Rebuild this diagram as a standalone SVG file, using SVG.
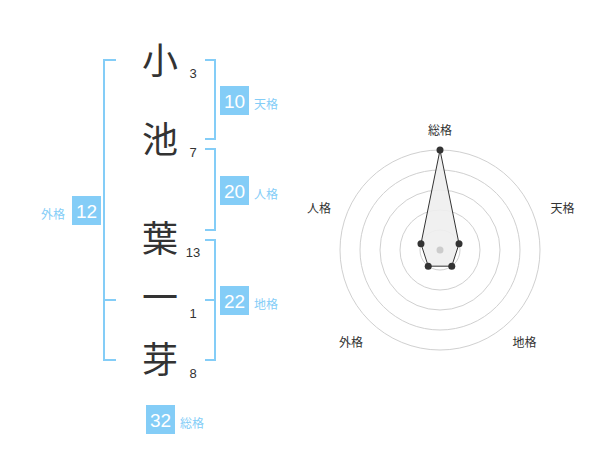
<svg xmlns="http://www.w3.org/2000/svg" width="600" height="470" viewBox="0 0 600 470">
<style>
.ch{font-family:"Noto Sans CJK JP","Noto Sans CJK SC",sans-serif;font-size:36px;fill:#333;text-anchor:middle}
.num{font-family:"Liberation Sans",Arial,sans-serif;font-size:13px;fill:#333;text-anchor:middle}
.br{fill:none;stroke:#84cdf7;stroke-width:2}
.box{fill:#84cdf7}
.bn{font-family:"Liberation Sans",Arial,sans-serif;font-size:19px;fill:#fff;text-anchor:middle}
.lb{font-family:"Noto Sans CJK JP","Noto Sans CJK SC",sans-serif;font-size:12px;fill:#84cdf7}
.rl{font-family:"Noto Sans CJK JP","Noto Sans CJK SC",sans-serif;font-size:12px;fill:#333;text-anchor:middle}
.ring{fill:none;stroke:#d0d0d0;stroke-width:1}
.pt{fill:#333}
</style>
<rect width="600" height="470" fill="#fff"/>
<g id="connectors">
<path class="br" d="M116,60 H104 V360 H116 M104,300 H116"/>
<path class="br" d="M205,60 H215 V139 H205"/>
<path class="br" d="M205,149 H215 V230 H205"/>
<path class="br" d="M205,240 H215 V360 H205 M205,300 H215"/>
</g>
<g id="name">
<text class="ch" x="160" y="74">小</text>
<text class="ch" x="160" y="153">池</text>
<text class="ch" x="160" y="252">葉</text>
<text class="ch" x="160" y="311">一</text>
<text class="ch" x="160" y="373">芽</text>
<text class="num" x="193" y="78">3</text>
<text class="num" x="193" y="157">7</text>
<text class="num" x="193" y="257">13</text>
<text class="num" x="193" y="318">1</text>
<text class="num" x="193" y="378">8</text>
</g>
<g id="tenkaku">
<rect class="box" x="220" y="86" width="29" height="29"/>
<text class="bn" x="234.5" y="107.5">10</text>
<text class="lb" x="254" y="109">天格</text>
</g>
<g id="jinkaku">
<rect class="box" x="220" y="176" width="29" height="29"/>
<text class="bn" x="234.5" y="197.5">20</text>
<text class="lb" x="254" y="199">人格</text>
</g>
<g id="chikaku">
<rect class="box" x="220" y="286" width="29" height="29"/>
<text class="bn" x="234.5" y="307.5">22</text>
<text class="lb" x="254" y="309">地格</text>
</g>
<g id="gaikaku">
<rect class="box" x="72" y="196" width="29" height="29"/>
<text class="bn" x="86.5" y="217.5">12</text>
<text class="lb" x="41" y="219">外格</text>
</g>
<g id="soukaku">
<rect class="box" x="146" y="405" width="29" height="29"/>
<text class="bn" x="160.5" y="426.5">32</text>
<text class="lb" x="180" y="428">総格</text>
</g>
<g id="radar">
<circle class="ring" cx="440" cy="250" r="20"/>
<circle class="ring" cx="440" cy="250" r="40"/>
<circle class="ring" cx="440" cy="250" r="60"/>
<circle class="ring" cx="440" cy="250" r="80"/>
<circle class="ring" cx="440" cy="250" r="100"/>
<polygon points="440,150 459.02,243.82 451.76,266.18 428.24,266.18 420.98,243.82" fill="#eee" fill-opacity="0.9" stroke="#333" stroke-width="1"/>
<circle cx="440" cy="250" r="3.5" fill="#ccc"/>
<circle class="pt" cx="440" cy="150" r="3.5"/>
<circle class="pt" cx="459.02" cy="243.82" r="3.5"/>
<circle class="pt" cx="451.76" cy="266.18" r="3.5"/>
<circle class="pt" cx="428.24" cy="266.18" r="3.5"/>
<circle class="pt" cx="420.98" cy="243.82" r="3.5"/>
<text class="rl" x="440" y="135">総格</text>
<text class="rl" x="562.5" y="213">天格</text>
<text class="rl" x="524.5" y="347">地格</text>
<text class="rl" x="351" y="347">外格</text>
<text class="rl" x="319" y="213">人格</text>
</g>
</svg>
